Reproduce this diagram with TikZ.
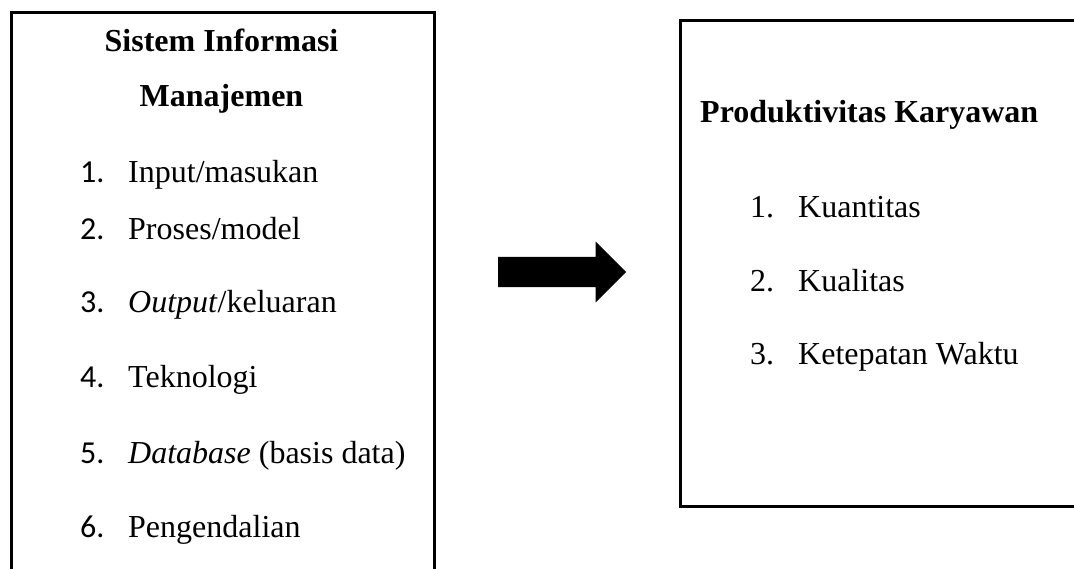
\documentclass[tikz,border=0pt]{standalone}
\usepackage{fontspec}
\setmainfont{Liberation Serif}
\newfontfamily\calibri{Carlito}
\usetikzlibrary{shapes.arrows, positioning}

\begin{document}
\begin{tikzpicture}[x=1pt, y=-1pt, font=\fontsize{32}{38}\selectfont]
\tikzstyle{box} = [rectangle, draw=black, line width=2.6pt, anchor=north west, inner sep=0pt]
\tikzstyle{title} = [inner sep=0pt, font=\fontsize{32}{38}\selectfont\bfseries]
\tikzstyle{num} = [anchor=base west, inner sep=0pt, font=\fontsize{32}{38}\selectfont\calibri]
\tikzstyle{rnum} = [anchor=base west, inner sep=0pt]
\tikzstyle{item} = [anchor=base west, inner sep=0pt]
\tikzstyle{blockarrow} = [single arrow, fill=black, inner xsep=0pt, inner ysep=15pt,
    minimum height=128pt, single arrow head extend=15.5pt, anchor=tail]

\useasboundingbox (0,0) rectangle (1074,569);

% left box
\node (sim) [box, minimum width=423pt, minimum height=620pt] at (10,11) {};
\node (simA) [title, anchor=base] at (221.5,52) {Sistem Informasi};
\node (simB) [title, anchor=base] at (221.5,107) {Manajemen};

\node (n1) [num] at (80,183) {1.};
\node (n2) [num] at (80,240) {2.};
\node (n3) [num] at (80,313) {3.};
\node (n4) [num] at (80,388) {4.};
\node (n5) [num] at (80,463) {5.};
\node (n6) [num] at (80,537) {6.};
\node (input)   [item] at (128,183) {Input/masukan};
\node (proses)  [item] at (128,240) {Proses/model};
\node (output)  [item] at (128,313) {\textit{Output}/keluaran};
\node (tekno)   [item] at (128,388) {Teknologi};
\node (dbase)   [item] at (128,463) {\textit{Database} (basis data)};
\node (kendali) [item] at (128,537) {Pengendalian};

% arrow
\node (arrow) [blockarrow] at (498,272) {};

% right box
\node (prod) [box, minimum width=420pt, minimum height=486pt] at (679,19) {};
\node (prodA) [title, anchor=base west] at (700,123) {Produktivitas Karyawan};

\node (m1) [rnum] at (750,218) {1.};
\node (m2) [rnum] at (750,292) {2.};
\node (m3) [rnum] at (750,365) {3.};
\node (kuan)  [item] at (798,218) {Kuantitas};
\node (kual)  [item] at (798,292) {Kualitas};
\node (tepat) [item] at (798,365) {Ketepatan Waktu};

\end{tikzpicture}
\end{document}
